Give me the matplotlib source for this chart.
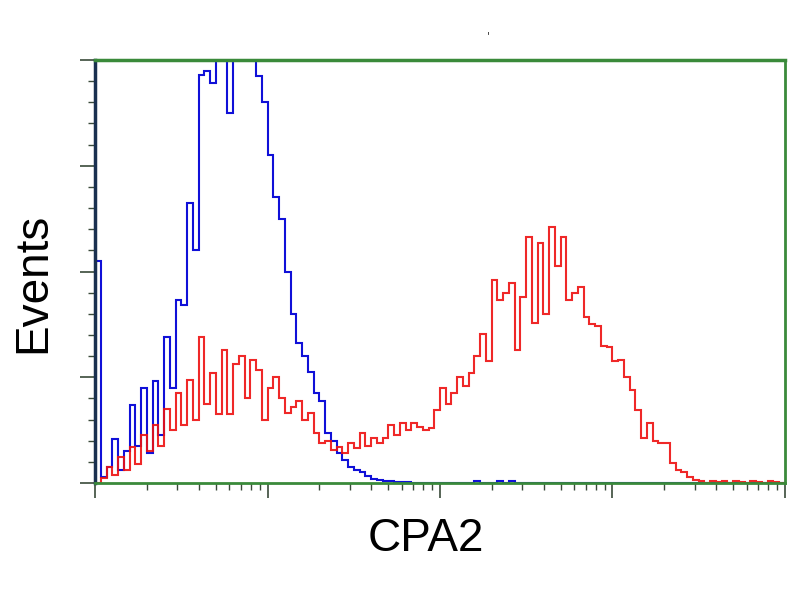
import matplotlib
matplotlib.use("Agg")
import matplotlib.pyplot as plt
import numpy as np
from matplotlib.ticker import LogLocator, NullFormatter, MultipleLocator

# Histogram counts (arbitrary units), 120 log-spaced channels over 4 decades
blue_counts = [
    2.1, 0.06, 0.15, 0.42, 0.12, 0.3, 0.74, 0.35, 0.9, 0.28,
    0.96, 0.45, 1.38, 0.9, 1.73, 1.68, 2.65, 2.2, 3.86, 3.9,
    3.78, 4.5, 4.3, 3.5, 4.2, 4.6, 4.4, 4.3, 3.85, 3.6,
    3.1, 2.7, 2.5, 2.0, 1.6, 1.32, 1.2, 1.05, 0.85, 0.78,
    0.47, 0.4, 0.28, 0.22, 0.15, 0.12, 0.1, 0.07, 0.04, 0.03,
    0.02, 0.02, 0.01, 0.01, 0.01, 0.0, 0.0, 0.0, 0.0, 0.0,
    0.0, 0.0, 0.0, 0.0, 0.0, 0.0, 0.02, 0.0, 0.0, 0.0,
    0.02, 0.0, 0.02, 0.0, 0.0, 0.0, 0.0, 0.0, 0.0, 0.0,
    0.0, 0.0, 0.0, 0.0, 0.0, 0.0, 0.0, 0.0, 0.0, 0.0,
    0.0, 0.0, 0.0, 0.0, 0.0, 0.0, 0.0, 0.0, 0.0, 0.0,
    0.0, 0.0, 0.0, 0.0, 0.0, 0.0, 0.0, 0.0, 0.0, 0.0,
    0.0, 0.0, 0.0, 0.0, 0.0, 0.0, 0.0, 0.0, 0.0, 0.0,
]
red_counts = [
    0.0, 0.05, 0.15, 0.08, 0.25, 0.12, 0.34, 0.18, 0.45, 0.3,
    0.55, 0.35, 0.7, 0.5, 0.85, 0.55, 0.97, 0.6, 1.38, 0.75,
    1.04, 0.65, 1.26, 0.65, 1.13, 1.2, 0.8, 1.16, 1.07, 0.6,
    0.9, 1.0, 0.8, 0.66, 0.72, 0.78, 0.6, 0.66, 0.47, 0.38,
    0.4, 0.31, 0.34, 0.28, 0.38, 0.33, 0.47, 0.35, 0.43, 0.38,
    0.43, 0.55, 0.45, 0.57, 0.5, 0.57, 0.53, 0.5, 0.52, 0.69,
    0.9, 0.75, 0.85, 1.0, 0.92, 1.04, 1.2, 1.41, 1.15, 1.92,
    1.73, 1.8, 1.89, 1.26, 1.76, 2.33, 1.51, 2.27, 1.6, 2.42,
    2.05, 2.33, 1.73, 1.8, 1.85, 1.57, 1.5, 1.48, 1.3, 1.29,
    1.15, 1.16, 1.0, 0.88, 0.69, 0.43, 0.57, 0.4, 0.38, 0.38,
    0.19, 0.12, 0.1, 0.06, 0.03, 0.02, 0.0, 0.02, 0.01, 0.02,
    0.0, 0.02, 0.01, 0.0, 0.02, 0.01, 0.0, 0.02, 0.01, 0.0,
]

x_label = "CPA2"
y_label = "Events"

edges = np.logspace(0, 4, len(red_counts) + 1)

fig = plt.figure(figsize=(8, 6), dpi=100)
ax = fig.add_axes([0.119, 0.195, 0.862, 0.705])

ax.stairs(blue_counts, edges, color="#1010d8", linewidth=1.5)
ax.stairs(red_counts, edges, color="#ee1010", linewidth=1.5, alpha=0.9)

ax.set_xscale("log")
ax.set_xlim(1, 1e4)
ax.set_ylim(0, 4)

ax.xaxis.set_major_locator(LogLocator(base=10, numticks=10))
ax.xaxis.set_minor_locator(LogLocator(base=10, subs=np.arange(2, 10), numticks=100))
ax.xaxis.set_major_formatter(NullFormatter())
ax.xaxis.set_minor_formatter(NullFormatter())
ax.yaxis.set_major_locator(MultipleLocator(1))
ax.yaxis.set_minor_locator(MultipleLocator(0.2))
ax.yaxis.set_major_formatter(NullFormatter())

ax.tick_params(axis="both", which="major", direction="out", length=11, width=1.2, color="#3a4a3a")
ax.tick_params(axis="both", which="minor", direction="out", length=5, width=1.0, color="#3a4a3a")

for side in ["top", "right", "bottom"]:
    ax.spines[side].set_color("#3a8a3a")
ax.spines["top"].set_linewidth(2.5)
ax.spines["right"].set_linewidth(2.0)
ax.spines["bottom"].set_linewidth(2.0)
ax.spines["left"].set_color("#1a3050")
ax.spines["left"].set_linewidth(2.5)

ax.set_xlabel(x_label, fontsize=33, family="Liberation Sans")
ax.set_ylabel(y_label, fontsize=33, family="Liberation Sans")
ax.xaxis.set_label_coords(0.48, -0.08)
ax.yaxis.set_label_coords(-0.058, 0.472)

fig.text(0.609, 0.935, "'", fontsize=8, color="#333333")

fig.savefig("out.png", dpi=100)
